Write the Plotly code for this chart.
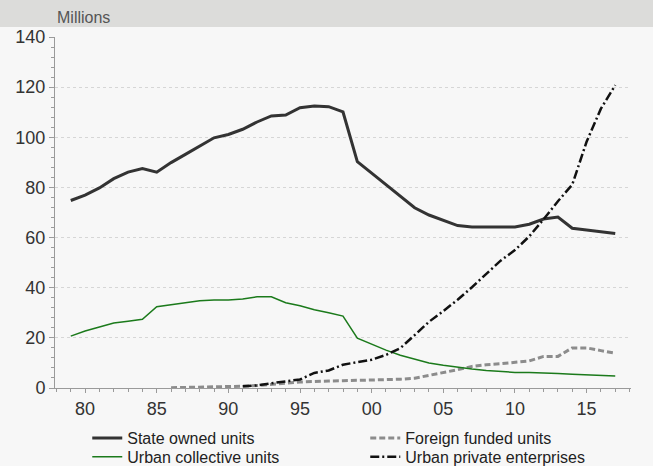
import plotly.graph_objects as go

years = list(range(1979, 2018))

state_owned = [74.8, 76.9, 79.8, 83.5, 86.1, 87.5, 86.1, 89.9, 93.2, 96.5,
               99.8, 101.1, 103.2, 106.1, 108.5, 108.9, 111.8, 112.5, 112.2, 110.1,
               90.3, 85.7, 81.1, 76.4, 71.9, 69.0, 66.9, 64.8, 64.2, 64.2,
               64.5, 64.2, 65.3, 67.4, 68.2, 63.7, 63.0, 62.2, 61.6]

urban_collective = [20.7, 22.7, 24.3, 25.9, 26.6, 27.4, 32.4, 33.2, 34.3, 34.8,
                    35.1, 35.1, 35.5, 36.4, 36.4, 34.0, 32.8, 31.2, 30.0, 28.7,
                    19.9, 17.5, 15.1, 13.1, 11.4, 10.0, 9.1, 8.2, 7.6, 7.0,
                    6.6, 6.2, 6.2, 6.1, 5.8, 5.5, 5.3, 5.0, 4.8]

foreign_years = list(range(1986, 2018))
foreign_funded = [0.1, 0.2, 0.3, 0.4, 0.6, 0.7, 1.0, 1.3, 1.9, 2.4,
                  2.7, 2.8, 2.9, 3.0, 3.2, 3.4, 3.5, 3.9, 5.0, 6.0,
                  7.3, 8.6, 9.3, 9.7, 10.2, 10.8, 12.6, 12.6, 16.0, 16.0,
                  14.9, 13.9]

private_years = list(range(1991, 2018))
urban_private = [0.7, 1.0, 1.9, 2.5, 3.4, 6.0, 7.0, 9.3, 10.2, 11.3,
                 13.2, 15.9, 21.1, 26.4, 30.7, 35.2, 40.2, 45.5, 50.8, 55.0,
                 60.5, 67.3, 74.5, 81.1, 98.2, 111.4, 120.8]

tick_years = [1980, 1985, 1990, 1995, 2000, 2005, 2010, 2015]
tick_text = ["80", "85", "90", "95", "00", "05", "10", "15"]

fig = go.Figure()
fig.add_trace(go.Scatter(x=years, y=state_owned, name="State owned units", legend="legend",
                         mode="lines", line=dict(color="#333333", width=3)))
fig.add_trace(go.Scatter(x=foreign_years, y=foreign_funded, name="Foreign funded units",
                         legend="legend",
                         mode="lines", line=dict(color="#8c8c8c", width=3, dash="6px,3px")))
fig.add_trace(go.Scatter(x=years, y=urban_collective, name="Urban collective units",
                         legend="legend2",
                         mode="lines", line=dict(color="#1b7a1b", width=1.5)))
fig.add_trace(go.Scatter(x=private_years, y=urban_private, name="Urban private enterprises",
                         legend="legend2",
                         mode="lines", line=dict(color="#111111", width=2.5, dash="9px,3px,2px,3px")))

legend_common = dict(orientation="h", xanchor="left", yanchor="top",
                     entrywidth=233, entrywidthmode="pixels",
                     font=dict(size=16, color="#222222"), bgcolor="rgba(0,0,0,0)")

fig.update_layout(
    width=653, height=466,
    margin=dict(l=55, r=22, t=37, b=78, autoexpand=False),
    paper_bgcolor="#f7f7f7", plot_bgcolor="#f7f7f7",
    font=dict(family="Liberation Sans, Arial, sans-serif", color="#333333"),
    showlegend=True,
    legend=dict(x=0.056, y=-0.094, **legend_common),
    legend2=dict(x=0.056, y=-0.148, **legend_common),
    shapes=[dict(type="rect", xref="paper", yref="paper", x0=-0.2, x1=1.2,
                 y0=1.0 + 10 / 351, y1=1.0 + 40 / 351, fillcolor="#dcdcda",
                 line=dict(width=0), layer="below")],
    annotations=[dict(text="Millions", xref="paper", yref="paper", x=0, y=1.0 + 20 / 351,
                      xanchor="left", yanchor="middle", showarrow=False,
                      font=dict(size=16, color="#555555"))],
)

fig.update_xaxes(range=[1977.9, 2018.1], tickvals=tick_years, ticktext=tick_text,
                 showgrid=False, zeroline=False, showline=True, linecolor="#9a9a9a",
                 linewidth=1, ticks="outside", ticklen=4, tickcolor="#9a9a9a",
                 tickfont=dict(size=18, color="#333333"),
                 minor=dict(dtick=1, tick0=1979, ticks="outside", ticklen=3, tickcolor="#9a9a9a"))
fig.update_yaxes(range=[0, 140], dtick=20, showgrid=True, gridcolor="#d6d6d6",
                 griddash="dot", gridwidth=1, zeroline=False, showline=True,
                 linecolor="#9a9a9a", linewidth=1, ticks="outside", ticklen=5,
                 tickcolor="#9a9a9a", tickfont=dict(size=18, color="#333333"),
                 minor=dict(dtick=4, ticks="outside", ticklen=3, tickcolor="#9a9a9a",
                            showgrid=False))

fig.write_html("out.html", config={"displayModeBar": False},
               post_script="document.body.style.margin='0';document.body.style.background='#f7f7f7';")
